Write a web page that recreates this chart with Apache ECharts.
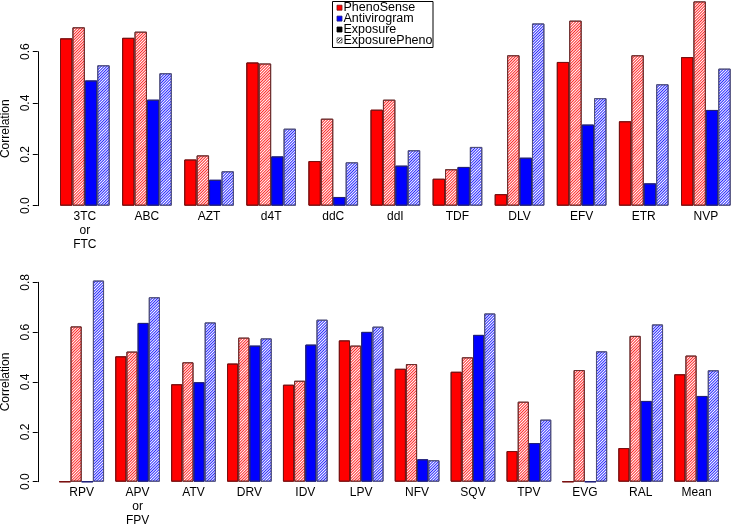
<!DOCTYPE html>
<html><head><meta charset="utf-8">
<script src="https://cdn.jsdelivr.net/npm/echarts@6/dist/echarts.min.js"></script>
<style>html,body{margin:0;padding:0;background:#fff}#c{width:733px;height:525px}</style>
</head><body><div id="c"></div>
<script>
const topCategories = ['3TC\nor\nFTC','ABC','AZT','d4T','ddC','ddI','TDF','DLV','EFV','ETR','NVP'];
const topPheno     = [0.652,0.654,0.180,0.558,0.174,0.374,0.105,0.045,0.560,0.329,0.579];
const topPhenoExp  = [0.695,0.678,0.196,0.554,0.339,0.413,0.142,0.586,0.721,0.586,0.796];
const topAnti      = [0.488,0.413,0.101,0.192,0.034,0.156,0.151,0.187,0.316,0.087,0.373];
const topAntiExp   = [0.547,0.516,0.134,0.300,0.169,0.216,0.229,0.710,0.419,0.473,0.534];
const bottomCategories = ['RPV','APV\nor\nFPV','ATV','DRV','IDV','LPV','NFV','SQV','TPV','EVG','RAL','Mean'];
const bottomPheno    = [0,0.503,0.391,0.474,0.389,0.567,0.453,0.441,0.123,0,0.135,0.431];
const bottomPhenoExp = [0.623,0.522,0.479,0.578,0.405,0.546,0.472,0.499,0.321,0.448,0.585,0.506];
const bottomAnti     = [0,0.637,0.399,0.546,0.550,0.601,0.090,0.589,0.155,0,0.324,0.344];
const bottomAntiExp  = [0.807,0.740,0.639,0.575,0.650,0.622,0.086,0.675,0.249,0.523,0.631,0.447];
const legendNames = ['PhenoSense','Antivirogram','Exposure','ExposurePheno'];
const yAxisTitle = 'Correlation';

const RED='#FF0000', BLUE='#0000FF';
function hatchDecal(color){
  return {symbol:'rect', symbolSize:1, color:color, backgroundColor:null,
    dashArrayX:[1,0], dashArrayY:[1,1], rotation:-Math.PI/4};
}
const styles = [
  {color:RED, borderColor:'#7a1010', decal:{symbol:'none'}},
  {color:'#fff', borderColor:'#6b3030', decal:hatchDecal('rgba(255,0,0,0.85)')},
  {color:BLUE, borderColor:'#20207a', decal:{symbol:'none'}},
  {color:'#fff', borderColor:'#50507a', decal:hatchDecal('rgba(0,0,255,0.85)')}
];
const font = 'Liberation Sans, Arial, Helvetica, sans-serif';

function yAx(idx, max){
  return {type:'value', gridIndex:idx, min:0, max:max, interval:0.2, offset:16,
    axisLine:{show:true, lineStyle:{color:'#000', width:1}},
    axisTick:{show:true, length:5, lineStyle:{color:'#000'}},
    axisLabel:{rotate:90, margin:6, fontSize:12, color:'#000', fontFamily:font,
      formatter:v=>v.toFixed(1)},
    splitLine:{show:false},
    name:yAxisTitle, nameLocation:'middle', nameGap:14, nameRotate:90,
    nameTextStyle:{fontSize:12, color:'#000', fontFamily:font}};
}
function xAx(idx, cats, margin){
  return {type:'category', gridIndex:idx, data:cats,
    axisLine:{show:false}, axisTick:{show:false},
    axisLabel:{interval:0, margin:margin, fontSize:12, lineHeight:14, color:'#000', fontFamily:font}};
}
function mk(idx, arrs, bw){
  return arrs.map((d,i)=>({type:'bar', xAxisIndex:idx, yAxisIndex:idx, data:d, barWidth:bw,
    barGap:'0%', clip:false, silent:true,
    itemStyle:{color:styles[i].color, borderColor:styles[i].borderColor, borderWidth:1, decal:styles[i].decal}}));
}

function hatchTile(){
  const c=document.createElement('canvas'); c.width=3; c.height=3;
  const g=c.getContext('2d'); g.fillStyle='#fff'; g.fillRect(0,0,3,3);
  g.fillStyle='#333';
  for(let i=0;i<3;i++) g.fillRect(i,2-i,1,1);
  return {image:c, repeat:'repeat'};
}
const legendSym = [
  {fill:RED, stroke:'#7a1010'},
  {fill:BLUE, stroke:'#20207a'},
  {fill:'#000', stroke:'#000'},
  {fill:hatchTile(), stroke:'#555'}
];
const lx=332.5, ly=1.5;
const graphics=[{type:'rect', shape:{x:lx, y:ly, width:100.5, height:46}, style:{fill:'#fff', stroke:'#000', lineWidth:1}, z:10}];
legendNames.forEach((n,i)=>{
  const cy = ly+6.2+i*10.9;
  graphics.push({type:'rect', shape:{x:lx+4.5, y:cy-2.5, width:5, height:5}, style:{fill:legendSym[i].fill, stroke:legendSym[i].stroke, lineWidth:0.8}, z:11});
  graphics.push({type:'text', x:lx+11, y:cy, style:{text:n, fontSize:12.5, fontFamily:font, fill:'#000', verticalAlign:'middle', align:'left'}, z:11});
});

const chart = echarts.init(document.getElementById('c'), null, {renderer:'canvas'});
chart.setOption({
  animation:false, backgroundColor:'#fff',
  aria:{enabled:true, decal:{show:true}},
  grid:[
    {left:53.8, right:-3.9, top:51.7, bottom:319.3, containLabel:false, outerBoundsMode:'none'},
    {left:53.75, right:8.45, top:282.3, bottom:43.3, containLabel:false, outerBoundsMode:'none'}
  ],
  xAxis:[xAx(0, topCategories, 4), xAx(1, bottomCategories, 4)],
  yAxis:[yAx(0, 0.6), yAx(1, 0.8)],
  series:[...mk(0,[topPheno,topPhenoExp,topAnti,topAntiExp],12.42), ...mk(1,[bottomPheno,bottomPhenoExp,bottomAnti,bottomAntiExp],11.18)],
  graphic:graphics
});
</script></body></html>
